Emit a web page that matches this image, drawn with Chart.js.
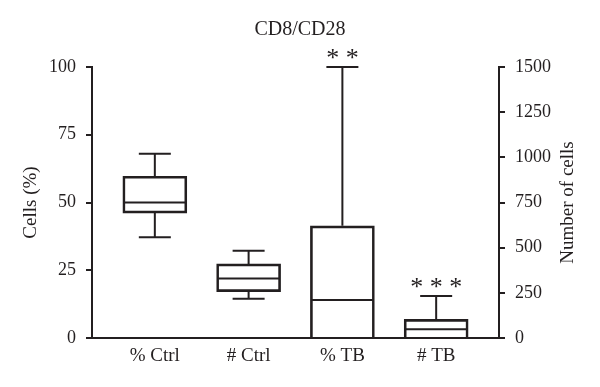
<!DOCTYPE html>
<html>
<head>
<meta charset="utf-8">
<script src="https://cdn.jsdelivr.net/npm/chart.js@4/dist/chart.umd.min.js"></script>
<style>
  html, body { margin: 0; padding: 0; background: #ffffff; }
  canvas { display: block; }
</style>
</head>
<body>
<canvas id="c" width="600" height="387"></canvas>
<script>
// ---- data ----
const categories = ['% Ctrl', '# Ctrl', '% TB', '# TB'];
const axisOf     = ['pct', 'num', 'pct', 'num'];   // pct -> left axis (%), num -> right axis (cells)
const whiskerMin = [37.2, 217, 0, 0];
const quart1     = [46.1, 257, 0, 0];
const medians    = [50.0, 330, 14.0, 48];
const quart3     = [59.7, 410, 41.4, 103];
const whiskerMax = [68.0, 483, 100, 232];
const stars      = ['', '', '* *', '* * *'];
const leftTicks  = [0, 25, 50, 75, 100];
const rightTicks = [0, 250, 500, 750, 1000, 1250, 1500];
const rightTitle = 'Number of cells';

const INK = '#231f20';
const FONT = '"Liberation Serif", "DejaVu Serif", serif';

function buildDataset(kind, axisId) {
  const idx = [];
  const pts = [];
  categories.forEach((c, i) => {
    if (axisOf[i] === kind) {
      idx.push(i);
      pts.push({ x: i, y: [quart1[i], quart3[i]] });
    }
  });
  return {
    label: kind,
    data: pts,
    catIndex: idx,
    yAxisID: axisId,
    backgroundColor: 'rgba(255,255,255,0)',
    borderColor: INK,
    borderWidth: 2,
    borderSkipped: (c) => (quart1[idx[c.dataIndex]] === 0 ? 'bottom' : false),
    barThickness: 64,
    grouped: false
  };
}

const boxDetails = {
  id: 'boxDetails',
  afterDatasetsDraw(chart) {
    const ctx = chart.ctx;
    ctx.save();
    ctx.strokeStyle = INK;
    ctx.lineWidth = 2;
    ctx.lineCap = 'butt';
    chart.data.datasets.forEach((ds, di) => {
      const meta = chart.getDatasetMeta(di);
      const ys = chart.scales[ds.yAxisID];
      meta.data.forEach((bar, j) => {
        const k = ds.catIndex[j];
        const cx = bar.x;
        const w = bar.width;
        const capHalf = w / 4;
        const yMed = ys.getPixelForValue(medians[k]);
        const yQ1 = ys.getPixelForValue(quart1[k]);
        const yQ3 = ys.getPixelForValue(quart3[k]);
        const yMax = ys.getPixelForValue(whiskerMax[k]);
        const yMin = ys.getPixelForValue(whiskerMin[k]);
        ctx.beginPath();
        ctx.moveTo(cx - w / 2 + 1, yMed);
        ctx.lineTo(cx + w / 2 - 1, yMed);
        if (whiskerMax[k] > quart3[k]) {
          ctx.moveTo(cx, yQ3);
          ctx.lineTo(cx, yMax);
          ctx.moveTo(cx - capHalf, yMax);
          ctx.lineTo(cx + capHalf, yMax);
        }
        if (whiskerMin[k] < quart1[k]) {
          ctx.moveTo(cx, yQ1);
          ctx.lineTo(cx, yMin);
          ctx.moveTo(cx - capHalf, yMin);
          ctx.lineTo(cx + capHalf, yMin);
        }
        ctx.stroke();
        if (stars[k]) {
          ctx.fillStyle = INK;
          ctx.font = '26px ' + FONT;
          ctx.textAlign = 'center';
          ctx.textBaseline = 'alphabetic';
          ctx.fillText(stars[k], cx, yMax - 1);
        }
      });
    });
    ctx.restore();
  },
  afterDraw(chart) {
    // right-hand axis title, reading bottom-to-top like the left one
    const s = chart.scales.y2;
    const ctx = chart.ctx;
    ctx.save();
    ctx.fillStyle = INK;
    ctx.font = '19px ' + FONT;
    ctx.textAlign = 'center';
    ctx.textBaseline = 'middle';
    ctx.translate(s.right - 21 - 11.4, (s.top + s.bottom) / 2);
    ctx.rotate(-Math.PI / 2);
    ctx.fillText(rightTitle, 0, 0);
    ctx.restore();
  }
};

new Chart(document.getElementById('c'), {
  type: 'bar',
  data: {
    datasets: [buildDataset('pct', 'y'), buildDataset('num', 'y2')]
  },
  plugins: [boxDetails],
  options: {
    responsive: false,
    maintainAspectRatio: false,
    animation: false,
    events: [],
    layout: { padding: 0 },
    plugins: {
      legend: { display: false },
      tooltip: { enabled: false },
      title: {
        display: true,
        text: 'CD8/CD28',
        color: INK,
        font: { family: FONT, size: 20, weight: 'normal' },
        padding: { top: 18, bottom: 25 }
      }
    },
    scales: {
      x: {
        type: 'linear',
        position: 'bottom',
        min: -0.67,
        max: 3.67,
        offset: false,
        afterBuildTicks(scale) {
          scale.ticks = categories.map((c, i) => ({ value: i }));
        },
        afterFit(scale) { scale.height = 49; },
        ticks: {
          callback: (v) => categories[v] !== undefined ? categories[v] : '',
          color: INK,
          font: { family: FONT, size: 19 },
          padding: 7,
          maxRotation: 0,
          autoSkip: false
        },
        grid: { display: false, drawTicks: false },
        border: { display: true, color: INK, width: 2 }
      },
      y: {
        type: 'linear',
        position: 'left',
        min: 0,
        max: 100,
        afterBuildTicks(scale) {
          scale.ticks = leftTicks.map(v => ({ value: v }));
        },
        afterFit(scale) { scale.width = 92; },
        ticks: {
          callback: (v) => String(v),
          color: INK,
          font: { family: FONT, size: 18 },
          padding: 10
        },
        grid: {
          display: true,
          drawOnChartArea: false,
          drawTicks: true,
          tickLength: 6,
          color: INK,
          lineWidth: 2
        },
        border: { display: true, color: INK, width: 2 },
        title: {
          display: true,
          text: 'Cells (%)',
          color: INK,
          font: { family: FONT, size: 19 },
          padding: { top: 20, bottom: 0 }
        }
      },
      y2: {
        type: 'linear',
        position: 'right',
        min: 0,
        max: 1500,
        afterBuildTicks(scale) {
          scale.ticks = rightTicks.map(v => ({ value: v }));
        },
        afterFit(scale) { scale.width = 101; },
        ticks: {
          callback: (v) => String(v),
          color: INK,
          font: { family: FONT, size: 18 },
          padding: 10
        },
        grid: {
          display: true,
          drawOnChartArea: false,
          drawTicks: true,
          tickLength: 6,
          color: INK,
          lineWidth: 2
        },
        border: { display: true, color: INK, width: 2 },
        title: { display: false }
      }
    }
  }
});
</script>
</body>
</html>
